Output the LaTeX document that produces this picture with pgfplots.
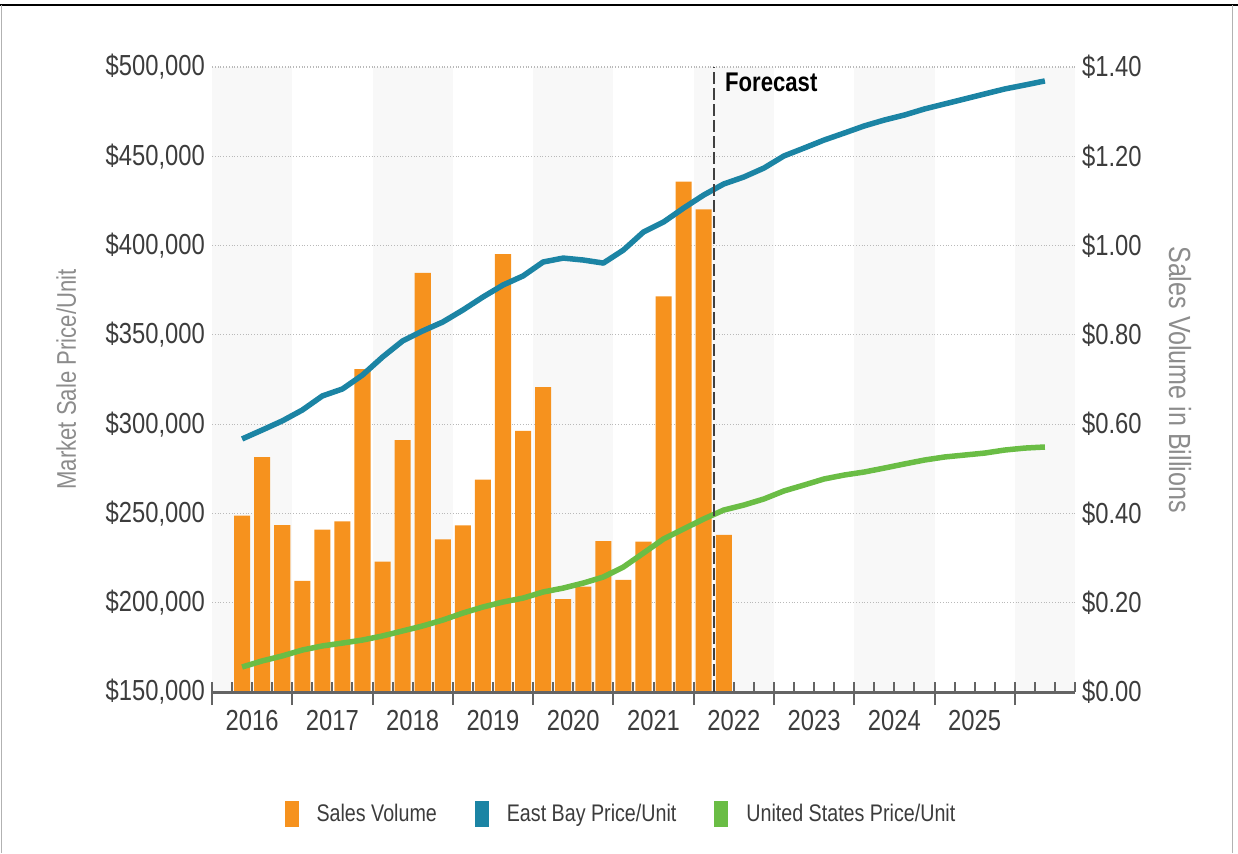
\documentclass[border=0pt]{standalone}
\usepackage{pgfplots}
\usepackage{pgfplotstable}
\pgfplotsset{compat=1.18}
\usepackage{fontspec}
\setmainfont{Liberation Sans}[FakeStretch=0.82]
\definecolor{barorange}{RGB}{246,146,30}
\definecolor{ebblue}{RGB}{27,132,164}
\definecolor{usgreen}{RGB}{106,189,69}
\definecolor{stripe}{RGB}{248,248,248}
\definecolor{axgray}{RGB}{100,100,100}
\definecolor{lblgray}{RGB}{60,60,60}
\definecolor{titlegray}{RGB}{140,140,140}

\pgfplotstableread{
x v
1.5 0.395
2.5 0.526
3.5 0.374
4.5 0.249
5.5 0.364
6.5 0.382
7.5 0.723
8.5 0.292
9.5 0.564
10.5 0.939
11.5 0.342
12.5 0.373
13.5 0.476
14.5 0.981
15.5 0.585
16.5 0.683
17.5 0.208
18.5 0.236
19.5 0.338
20.5 0.251
21.5 0.337
22.5 0.886
23.5 1.143
24.5 1.081
25.5 0.352
}\bars

\pgfplotstableread{
x eb us
1.5 291700 164000
2.5 296700 167400
3.5 301800 170200
4.5 307900 173500
5.5 315800 175800
6.5 319700 177400
7.5 327500 179100
8.5 337600 181400
9.5 346600 184200
10.5 352200 187000
11.5 357200 190300
12.5 363900 194200
13.5 371200 197600
14.5 377900 200400
15.5 383000 202600
16.5 390800 206000
17.5 393000 208200
18.5 391900 211000
19.5 390200 214400
20.5 397500 220000
21.5 407600 227800
22.5 413200 235700
23.5 421000 241300
24.5 428300 246900
25.5 434500 251900
26.5 438400 254700
27.5 443400 258100
28.5 450200 262600
29.5 454600 265900
30.5 459100 269300
31.5 463000 271500
32.5 467000 273200
33.5 470300 275400
34.5 473100 277700
35.5 476500 279900
36.5 479300 281600
37.5 482100 282700
38.5 484900 283800
39.5 487700 285500
40.5 489900 286600
41.5 492200 287200
}\prices

\pgfplotsset{
  base/.style={scale only axis, width=431.5pt, height=312.5pt,
    at={(106pt,80.5pt)}, anchor=south west, xmin=0, xmax=43,
    scaled y ticks=false, scaled x ticks=false,
    /pgf/number format/assume math mode=true},
}

\begin{document}
\begin{tikzpicture}
\path[use as bounding box] (0,0) rectangle (619pt,426.5pt);
\draw[line width=1pt, black] (0,424pt) -- (619pt,424pt);
\draw[gray!60, line width=0.5pt] (0.5pt,0) -- (0.5pt,424pt);
\draw[gray!60, line width=0.5pt] (616pt,0) -- (616pt,424pt);

% stripes
\begin{axis}[base, ymin=0, ymax=1.4, hide axis]
\fill[stripe] (axis cs:0,0) rectangle (axis cs:4,1.4);
\fill[stripe] (axis cs:8,0) rectangle (axis cs:12,1.4);
\fill[stripe] (axis cs:16,0) rectangle (axis cs:20,1.4);
\fill[stripe] (axis cs:24,0) rectangle (axis cs:28,1.4);
\fill[stripe] (axis cs:32,0) rectangle (axis cs:36,1.4);
\fill[stripe] (axis cs:40,0) rectangle (axis cs:43,1.4);
\end{axis}

% bars, right axis
\begin{axis}[base, ymin=0, ymax=1.4,
  axis x line=none, axis y line*=right,
  y axis line style={draw=none}, ytick style={draw=none},
  ytick={0,0.2,0.4,0.6,0.8,1.0,1.2,1.4},
  yticklabels={{\$0.00},{\$0.20},{\$0.40},{\$0.60},{\$0.80},{\$1.00},{\$1.20},{\$1.40}},
  yticklabel style={font=\fontsize{14.5}{17}\selectfont, color=lblgray},
  ymajorgrids, grid style={densely dotted, line width=0.6pt, color=gray!55},
  ylabel={Sales Volume in Billions},
  every axis y label/.style={at={(axis description cs:1.1217,0.5)}, rotate=-90, anchor=center,
    font=\fontsize{15.3}{18}\selectfont, color=titlegray},
  ]
\addplot[ybar, bar width=0.8, fill=barorange, draw=none] table[x=x,y=v]{\bars};
\end{axis}

% lines, left axis
\begin{axis}[base, ymin=150000, ymax=500000,
  axis x line*=bottom, axis y line*=left,
  y axis line style={draw=none}, ytick style={draw=none},
  x axis line style={line width=1.5pt, color=axgray, -},
  ytick={150000,200000,250000,300000,350000,400000,450000,500000},
  yticklabels={{\$150,000},{\$200,000},{\$250,000},{\$300,000},{\$350,000},{\$400,000},{\$450,000},{\$500,000}},
  yticklabel style={font=\fontsize{14.5}{17}\selectfont, color=lblgray},
  xtick={0,4,...,40},
  xticklabels={2016,2017,2018,2019,2020,2021,2022,2023,2024,2025},
  x tick label as interval,
  minor xtick={0,1,...,43},
  xtick align=inside,
  major tick length=11.5pt, minor tick length=5pt,
  major tick style={yshift=-6.5pt},
  xtick style={line width=1pt, color=axgray},
  xticklabel style={font=\fontsize{14.5}{17}\selectfont, color=lblgray, yshift=-5.5pt},
  ylabel={Market Sale Price/Unit},
  every axis y label/.style={at={(axis description cs:-0.169,0.5)}, rotate=90, anchor=center,
    font=\fontsize{13.5}{16}\selectfont, color=titlegray},
  legend style={at={(axis description cs:0.475,-0.195)}, anchor=center, draw=none, fill=none,
    legend columns=3, font=\fontsize{12}{14}\selectfont, text=lblgray,
    /tikz/every even column/.append style={column sep=17pt}},
  legend image code/.code={\fill[#1] (0pt,-6.5pt) rectangle (7pt,6.5pt); \path (14pt,0pt);},
  ]
\addlegendimage{fill=barorange, draw=none}\addlegendentry{Sales Volume}
\addlegendimage{fill=ebblue, draw=none}\addlegendentry{East Bay Price/Unit}
\addlegendimage{fill=usgreen, draw=none}\addlegendentry{United States Price/Unit}
\addplot[forget plot, ebblue, line width=2.75pt, line join=round] table[x=x,y=eb]{\prices};
\addplot[forget plot, usgreen, line width=2.75pt, line join=round] table[x=x,y=us]{\prices};
\draw[dash pattern=on 6pt off 2pt, line width=1pt, color=black!75] (axis cs:25,150000) -- (axis cs:25,500000);
\node[anchor=north west, inner sep=0pt, font=\bfseries\fontsize{13.5}{16}\selectfont, xshift=5.5pt, yshift=-3pt] at (axis cs:25,500000) {Forecast};
\end{axis}
\end{tikzpicture}
\end{document}
